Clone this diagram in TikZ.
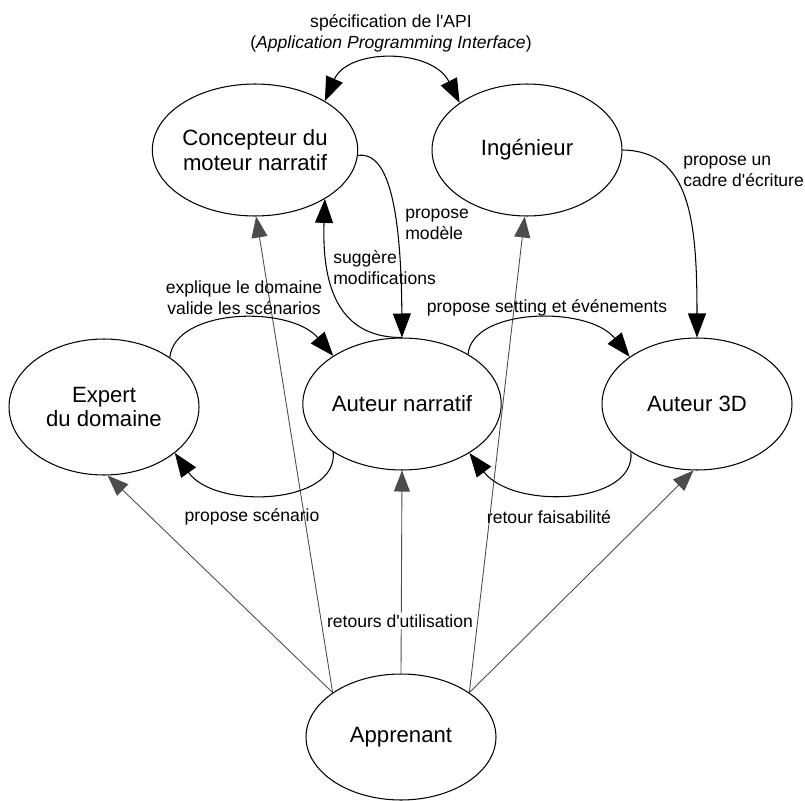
\documentclass[tikz,border=0pt]{standalone}
\usepackage{fontspec}
\setmainfont{Liberation Sans}[Ligatures=TeXOff]
\usetikzlibrary{shapes.geometric,arrows.meta}
\tikzset{
  actor/.style={draw=black, line width=0.6pt, ellipse, inner sep=0pt,
    minimum width=3.8cm, minimum height=2.64cm, align=center,
    font=\fontsize{12.6}{14.2}\selectfont},
  flow/.style={draw=black, line width=0.6pt,
    -{Triangle[length=0.48cm, width=0.36cm]}},
  bothflow/.style={draw=black, line width=0.6pt,
    {Triangle[length=0.48cm, width=0.36cm]}-{Triangle[length=0.48cm, width=0.36cm]}},
  use/.style={draw=black!70, line width=0.5pt,
    -{Triangle[length=0.42cm, width=0.32cm]}},
  lbl/.style={inner sep=0pt, font=\fontsize{10}{12}\selectfont},
}
\begin{document}
\begin{tikzpicture}[x=0.02cm, y=-0.02cm]
\useasboundingbox (0,0) rectangle (805,801);

% nodes
\node[actor] (con) at (255,150) {Concepteur du\\moteur narratif};
\node[actor] (ing) at (527,150) {Ingénieur};
\node[actor, minimum height=2.72cm] (exp) at (104,407) {Expert\\du domaine};
\node[actor, minimum width=3.86cm] (nar) at (402,404) {Auteur narratif};
\node[actor] (a3d) at (697,404) {Auteur 3D};
\node[actor, minimum height=2.52cm] (app) at (401,737) {Apprenant};

% gray usage arrows
\draw[use] (app.147) -- (exp.-87);
\draw[use] (app.147) -- (con.-89);
\draw[use] (app.north) -- (nar.south);
\draw[use] (app.33) -- (ing.-92);
\draw[use] (app.33) -- (a3d.-93);
\node[lbl, fill=white, inner sep=1pt] (lu) at (400,621) {retours d'utilisation};

% black flows
\draw[bothflow] (con.35) .. controls (348,48) and (432,48) .. (ing.145);
\node[lbl, align=center] (lapi) at (391,33) {spécification de l'API\\(\textit{Application Programming Interface})};

\draw[flow] (con.-3) .. controls (382,152) and (401,185) .. (nar.north);
\node[lbl, align=left, anchor=west] (lpm) at (405,224) {propose\\modèle};

\draw[flow] (nar.north) .. controls (335,338) and (322,280) .. (con.-35);
\node[lbl, align=left, anchor=west] (lsm) at (333,268) {suggère\\modifications};

\draw[flow] (exp.37) .. controls (175,308) and (290,305) .. (nar.145);
\node[lbl, align=center] (lex) at (244,298) {explique le domaine\\valide les scénarios};

\draw[flow] (nar.215) .. controls (338,505) and (215,510) .. (exp.-33);
\node[lbl] (lps) at (252,517) {propose scénario};

\draw[flow] (nar.37) .. controls (472,308) and (588,305) .. (a3d.145);
\node[lbl] (lse) at (547,308) {propose setting et événements};

\draw[flow] (a3d.216) .. controls (636,505) and (513,510) .. (nar.-36);
\node[lbl] (lrf) at (549,517) {retour faisabilité};

\draw[flow] (ing.east) .. controls (690,151) and (697,220) .. (a3d.north);
\node[lbl, align=left, anchor=west] (lcd) at (683,171) {propose un\\cadre d'écriture};
\end{tikzpicture}
\end{document}
